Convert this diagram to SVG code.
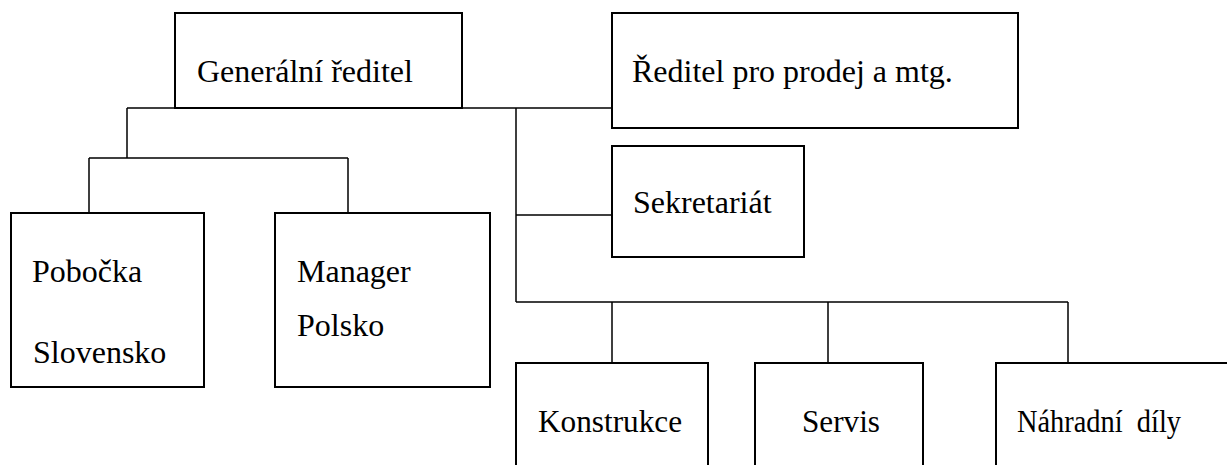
<svg xmlns="http://www.w3.org/2000/svg" width="1227" height="465" viewBox="0 0 1227 465">
<style>
.box{fill:#fff;stroke:#000;stroke-width:2}
.conn{fill:none;stroke:#000;stroke-width:1.5}
.t{font-size:32px;fill:#000}
</style>
<rect width="1227" height="465" fill="#fff"/>
<g id="connectors">
<path class="conn" d="M127 108H612M127 108V158M89 158H348M89 158V213M348 158V213M516 108V302M516 215H612M516 302H1068M612 302V363M828 302V363M1068 302V363"/>
</g>
<g id="nodes" font-family="Liberation Serif, serif">
<g id="n-generalni"><rect class="box" x="175" y="13" width="287" height="95"/><text class="t" x="197" y="82">Generální ředitel</text></g>
<g id="n-reditel"><rect class="box" x="612" y="13" width="406" height="115"/><text class="t" x="632" y="82">Ředitel pro prodej a mtg.</text></g>
<g id="n-sekretariat"><rect class="box" x="612" y="146" width="192" height="111"/><text class="t" x="633" y="213">Sekretariát</text></g>
<g id="n-pobocka"><rect class="box" x="11" y="213" width="193" height="174"/><text class="t" x="32" y="282">Pobočka</text><text class="t" x="33" y="363">Slovensko</text></g>
<g id="n-manager"><rect class="box" x="275" y="213" width="215" height="174"/><text class="t" x="297" y="282">Manager</text><text class="t" x="297" y="336">Polsko</text></g>
<g id="n-konstrukce"><rect class="box" x="516" y="363" width="192" height="120"/><text class="t" x="538" y="432" textLength="144" lengthAdjust="spacingAndGlyphs">Konstrukce</text></g>
<g id="n-servis"><rect class="box" x="755" y="363" width="168" height="120"/><text class="t" x="802" y="432" textLength="78" lengthAdjust="spacingAndGlyphs">Servis</text></g>
<g id="n-nahradni"><rect class="box" x="996" y="363" width="240" height="120"/><text class="t" x="1017" y="432" xml:space="preserve" textLength="164" lengthAdjust="spacingAndGlyphs">Náhradní  díly</text></g>
</g>
</svg>
